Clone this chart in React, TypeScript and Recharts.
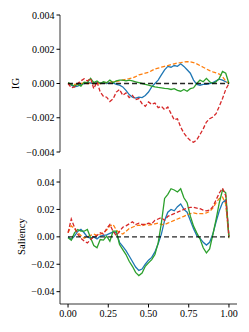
import React from 'react';
import { LineChart, Line, XAxis, YAxis } from 'recharts';

const xs = [0,0.02,0.04,0.06,0.08,0.10,0.12,0.14,0.16,0.18,0.20,0.22,0.24,0.26,0.28,0.30,0.32,0.34,0.36,0.38,0.40,0.42,0.44,0.46,0.48,0.50,0.52,0.54,0.56,0.58,0.60,0.62,0.64,0.66,0.68,0.70,0.72,0.74,0.76,0.78,0.80,0.82,0.84,0.86,0.88,0.90,0.92,0.94,0.96,0.98,1.00];

// IG panel (units of 1e-4)
const igBlue = [0,-1,-2,-1.5,-0.5,0,0.5,0.3,0,0.5,0.2,0.3,0,0.5,0.3,-0.5,-1,-2,-4,-6.5,-8,-8.5,-8,-8.2,-7,-5,-2,0,2,5,8,10,9.5,10.5,10,11.5,10,8,6,2,-0.5,-1,-0.5,-0.5,0,0.5,1.5,2.5,2,1,0];
const igOrange = [0,-0.3,-0.5,-0.3,0,0.2,0,0.1,0,-0.1,0,0.3,0.5,0.8,1,1.2,1.5,2,2.5,2.8,3.2,4,5,5.5,6,6.5,7.5,8.5,9,9.5,10,10.5,11,11.5,12,12.2,12.5,12.8,12.6,12.2,11.5,10.5,9.5,8.5,7.5,6.8,6.2,5.5,4,1.5,0];
const igGreen = [0.5,-0.5,-1.5,-0.5,-1.5,0.8,0.5,3,0.5,1.5,0,1,0.5,2,0.5,1.5,2,2,1.5,2,1.5,1,0.5,0,-0.5,-1,-1.5,-2,-2.3,-2.5,-2.8,-3,-3.5,-3,-4,-4.5,-3.5,-4.5,-3,-2.5,0,2,1,3,1,0,1,3,7,6,0];
const igRed = [0,-2.5,-2,0,1.5,2.8,1.5,3,-3,1,-5,-7.5,-8,-10.5,-9,-5,-3.5,-6.9,-5.5,-8.2,-6.9,-9.4,-8.8,-11.8,-13.3,-10.8,-12.2,-11.4,-14.1,-13.3,-15.3,-13.7,-17.6,-21.2,-20.6,-25.5,-29,-31.4,-33.3,-34.3,-32.9,-29.8,-26.5,-22.5,-20.6,-19.6,-17.6,-13.3,-8.8,-3.5,0];

// Saliency panel (units of 1e-3)
const salBlue = [0,-2,0.5,4,5.5,3,0,-1,0,-1.5,0.5,1,1.5,2.5,3.5,3,-4,-7,-10,-14,-18,-22,-24.5,-23.5,-20,-17,-15,-11,-5,2,12,18,20,19,22,24,20,18,12,6,1,-1,-4,-6,-4,2,11,19,25,27,0];
const salOrange = [3,8,6,3,1,-1,0,1,2,1,2,3,5,8,9,5,3,2,4,6,7,8,8.5,8,9,8.5,9,9.5,10,9,9,10,11,12,13,14,15,16,17,17.5,17,17,17,17.5,18.5,21,25,28,29,24,-1];
const salGreen = [-0.7,-2.4,2.9,5.4,4.1,4.1,5.4,-0.7,-6.3,-8,-2,-2.4,0.5,-3.2,4.1,4.1,-5.6,-9.3,-12.9,-17.8,-21.5,-25.9,-28.3,-26.4,-21.5,-19,-16.6,-12.9,-4.4,10,28,31,35.1,34.2,32.7,35.1,28.5,24.9,15.1,7.8,2.9,-1.5,-8,-11.7,-8.8,1.7,12.7,24.9,34.2,32.2,-0.7];
const salRed = [3,13,7,2,-1,-3,-4.5,-2,0,1,3,2,6,9,4,1,4,7,8,9.5,11,9,10,9,9,10,9.5,12,13,14,12,15,16,17,18,19,20,21,21.5,21.5,21,20.5,19.5,19,19.5,22,27,32,35.5,30,0];

const zeroX = [0, 1];

const igTicks = [-0.004, -0.002, 0, 0.002, 0.004];
const salTicks = [-0.04, -0.02, 0, 0.02, 0.04];
const xTicks = [0, 0.25, 0.5, 0.75, 1.0];

const igData = xs.map((x, i) => ({ x, blue: igBlue[i] * 1e-4, orange: igOrange[i] * 1e-4, green: igGreen[i] * 1e-4, red: igRed[i] * 1e-4 }));
const salData = xs.map((x, i) => ({ x, blue: salBlue[i] * 1e-3, orange: salOrange[i] * 1e-3, green: salGreen[i] * 1e-3, red: salRed[i] * 1e-3 }));
const zeroData = zeroX.map((x) => ({ x, v: 0 }));

const FONT = '"Liberation Serif", "DejaVu Serif", serif';
const C = { blue: '#1f77b4', orange: '#ff7f0e', green: '#2ca02c', red: '#d62728' };

const fmt = (d: number) => (v: number) => {
  const s = Math.abs(v).toFixed(d);
  return v < -1e-12 ? '\u2212' + s : s;
};

const tickStyle = { fontFamily: FONT, fontSize: 10, fill: '#000' };

function Panel({ data, domain, ticks, digits, label, labelX, showX, height, margin }: any) {
  return (
    <LineChart width={249} height={height} data={data} margin={margin}>
      <XAxis
        xAxisId="b"
        dataKey="x"
        type="number"
        domain={[-0.05, 1.05]}
        ticks={xTicks}
        tick={showX ? tickStyle : false}
        tickFormatter={fmt(2)}
        tickSize={showX ? 3.5 : 0}
        tickLine={showX ? { stroke: '#000' } : false}
        tickMargin={2}
        height={showX ? 28 : 0}
        axisLine={{ stroke: '#000', strokeWidth: 0.8 }}
        allowDataOverflow
      />
      <XAxis xAxisId="t" orientation="top" dataKey="x" type="number" domain={[-0.05, 1.05]} tick={false} tickLine={false} height={0} axisLine={{ stroke: '#000', strokeWidth: 0.8 }} allowDataOverflow />
      <YAxis
        yAxisId="l"
        type="number"
        domain={domain}
        ticks={ticks}
        tick={tickStyle}
        tickFormatter={fmt(digits)}
        tickSize={3.5}
        tickMargin={2}
        width={60}
        axisLine={{ stroke: '#000', strokeWidth: 0.8 }}
        tickLine={{ stroke: '#000' }}
        allowDataOverflow
        label={{
          content: (p: any) => {
            const vb = p.viewBox;
            const cy = vb.y + vb.height / 2;
            return (
              <text x={labelX} y={cy} transform={`rotate(-90 ${labelX} ${cy})`} textAnchor="middle" dominantBaseline="central" fontFamily={FONT} fontSize={10.7} fill="#000">
                {label}
              </text>
            );
          },
        }}
      />
      <YAxis yAxisId="r" orientation="right" type="number" domain={domain} tick={false} tickLine={false} width={0} axisLine={{ stroke: '#000', strokeWidth: 0.8 }} allowDataOverflow />
      <Line xAxisId="b" yAxisId="l" dataKey="blue" stroke={C.blue} strokeWidth={1.3} dot={false} isAnimationActive={false} />
      <Line xAxisId="b" yAxisId="l" dataKey="orange" stroke={C.orange} strokeWidth={1.3} strokeDasharray="4 2" dot={false} isAnimationActive={false} />
      <Line xAxisId="b" yAxisId="l" dataKey="green" stroke={C.green} strokeWidth={1.3} dot={false} isAnimationActive={false} />
      <Line xAxisId="b" yAxisId="l" dataKey="red" stroke={C.red} strokeWidth={1.3} strokeDasharray="4 2" dot={false} isAnimationActive={false} />
      <Line xAxisId="b" yAxisId="l" data={zeroData} dataKey="v" stroke="#000" strokeOpacity={0.85} strokeWidth={1.3} strokeDasharray="5 3" dot={false} isAnimationActive={false} />
    </LineChart>
  );
}

export default function App() {
  return (
    <div style={{ position: 'absolute', left: 0, top: 0, width: 249, height: 332, background: '#fff' }}>
      <Panel data={igData} domain={[-0.004, 0.004]} ticks={igTicks} digits={3} label="IG" labelX={15} showX={false} height={166} margin={{ top: 15, right: 12, bottom: 14, left: 0 }} />
      <Panel data={salData} domain={[-0.049, 0.0495]} ticks={salTicks} digits={2} label="Saliency" labelX={21} showX={true} height={166} margin={{ top: 3, right: 12, bottom: 0, left: 0 }} />
    </div>
  );
}
